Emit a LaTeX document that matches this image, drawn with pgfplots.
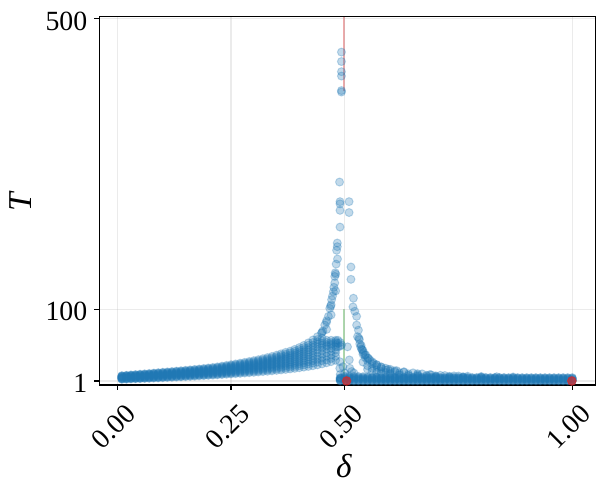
\documentclass[border=0pt]{standalone}
\usepackage{fontspec}
\setmainfont{Liberation Serif}
\usepackage{pgfplots}
\pgfplotsset{compat=1.18}
\usepackage{pgfplotstable}

\definecolor{tabblue}{RGB}{31,119,180}
\definecolor{tabred}{RGB}{214,39,40}
\definecolor{tabgreen}{RGB}{44,160,44}
\definecolor{gridc}{RGB}{176,176,176}

% left branch (delta < 0.5), eleven runs forming the band
\pgfplotstableread{
d c0 c1 c2 c3 c4 c5 c6 c7 c8 c9 c10
0.01 3.3 3.8 4.3 4.8 5.3 5.8 6.3 6.8 7.3 7.8 8.3
0.02 3.5 4.0 4.6 5.1 5.6 6.2 6.7 7.2 7.7 8.3 8.8
0.03 3.8 4.4 4.9 5.5 6.0 6.6 7.1 7.7 8.2 8.8 9.3
0.04 4.0 4.6 5.2 5.7 6.3 6.9 7.5 8.1 8.6 9.2 9.8
0.05 4.2 4.8 5.4 6.0 6.6 7.3 7.9 8.5 9.1 9.7 10.3
0.06 4.5 5.1 5.8 6.4 7.0 7.7 8.3 8.9 9.5 10.2 10.8
0.07 4.7 5.4 6.0 6.7 7.3 8.0 8.7 9.3 10.0 10.6 11.3
0.08 5.0 5.7 6.4 7.1 7.8 8.5 9.1 9.8 10.5 11.2 11.9
0.09 5.2 5.9 6.6 7.4 8.1 8.8 9.5 10.2 11.0 11.7 12.4
0.10 5.5 6.3 7.0 7.8 8.5 9.3 10.0 10.8 11.5 12.3 13.0
0.11 5.8 6.6 7.3 8.1 8.9 9.7 10.4 11.2 12.0 12.7 13.5
0.12 6.1 6.9 7.7 8.5 9.3 10.1 10.8 11.6 12.4 13.2 14.0
0.13 6.4 7.2 8.0 8.9 9.7 10.5 11.3 12.1 13.0 13.8 14.6
0.14 6.7 7.5 8.4 9.2 10.1 10.9 11.7 12.6 13.4 14.3 15.1
0.15 7.0 7.9 8.7 9.6 10.5 11.4 12.2 13.1 14.0 14.8 15.7
0.16 7.3 8.2 9.1 10.0 10.9 11.8 12.7 13.6 14.5 15.4 16.3
0.17 7.6 8.5 9.5 10.4 11.3 12.3 13.2 14.1 15.0 16.0 16.9
0.18 8.0 9.0 9.9 10.9 11.8 12.8 13.7 14.7 15.6 16.6 17.5
0.19 8.3 9.3 10.3 11.3 12.3 13.3 14.2 15.2 16.2 17.2 18.2
0.20 8.7 9.7 10.7 11.8 12.8 13.8 14.8 15.8 16.9 17.9 18.9
0.21 9.0 10.1 11.1 12.2 13.2 14.3 15.4 16.4 17.5 18.5 19.6
0.22 9.4 10.5 11.6 12.7 13.8 14.9 16.0 17.1 18.2 19.3 20.4
0.23 9.8 11.0 12.1 13.3 14.4 15.6 16.8 17.9 19.1 20.2 21.4
0.24 10.3 11.5 12.7 13.9 15.1 16.4 17.6 18.8 20.0 21.2 22.4
0.25 10.7 12.0 13.2 14.5 15.8 17.1 18.3 19.6 20.9 22.1 23.4
0.26 11.1 12.4 13.8 15.1 16.4 17.8 19.1 20.4 21.7 23.1 24.4
0.27 11.5 12.9 14.3 15.7 17.1 18.5 19.9 21.3 22.7 24.1 25.5
0.28 12.0 13.5 14.9 16.4 17.8 19.3 20.8 22.2 23.7 25.1 26.6
0.29 12.4 13.9 15.5 17.0 18.6 20.1 21.6 23.2 24.7 26.3 27.8
0.30 12.9 14.5 16.1 17.7 19.3 21.0 22.6 24.2 25.8 27.4 29.0
0.31 13.4 15.1 16.8 18.5 20.2 21.9 23.5 25.2 26.9 28.6 30.3
0.32 13.9 15.7 17.5 19.2 21.0 22.8 24.6 26.4 28.1 29.9 31.7
0.33 14.4 16.3 18.2 20.0 21.9 23.8 25.7 27.6 29.4 31.3 33.2
0.34 15.0 17.0 19.0 20.9 22.9 24.9 26.9 28.9 30.8 32.8 34.8
0.35 15.6 17.7 19.8 21.9 24.0 26.1 28.1 30.2 32.3 34.4 36.5
0.36 16.2 18.4 20.6 22.9 25.1 27.3 29.5 31.7 34.0 36.2 38.4
0.37 16.9 19.3 21.6 24.0 26.3 28.7 31.0 33.4 35.7 38.0 40.4
0.38 17.6 20.0 22.5 24.9 27.4 29.8 32.2 34.7 37.1 39.6 42.0
0.39 18.4 21.0 23.6 26.2 28.8 31.5 34.1 36.7 39.3 41.9 44.5
0.40 19.2 22.0 24.8 27.5 30.3 33.1 35.9 38.7 41.4 44.2 47.0
0.41 20.1 23.1 26.1 29.1 32.1 35.1 38.0 41.0 44.0 47.0 50.0
0.42 21.0 24.3 27.5 30.8 34.0 37.3 40.5 43.8 47.0 50.3 53.5
0.43 22.0 25.6 29.1 32.7 36.2 39.8 43.3 46.9 50.4 54.0 57.5
0.44 23.2 27.0 31.0 35.0 40.0 44.0 48.0 52.0 55.0 58.0 62.0
0.45 24.5 29.0 33.0 38.0 43.0 47.0 50.0 53.0 56.0 60.0 68.0
0.46 26.0 30.0 35.0 40.0 45.0 49.0 51.0 54.0 57.0 72.0 84.0
0.47 27.6 32.0 37.0 42.0 46.0 50.0 52.0 54.0 57.0 92.0 106.0
0.48 29.5 35.0 40.0 44.0 48.0 51.0 53.0 55.0 57.0 125.0 148.0
}\leftband

% right branch, low band (delta >= 0.49)
\pgfplotstableread{
d b0 b1 b2 b3 b4 b5 b6
0.49 1.0 1.7 2.4 3.2 4.0 4.8 5.6
0.50 1.0 1.8 2.7 3.6 4.6 6.0 7.6
0.51 1.0 1.8 2.7 3.6 4.6 6.0 7.8
0.52 1.0 1.8 2.7 3.6 4.6 6.0 7.6
0.53 1.0 1.8 2.7 3.6 4.5 5.8 7.2
0.54 1.0 1.8 2.7 3.6 4.5 5.7 6.9
0.55 1.0 1.8 2.6 3.5 4.4 5.5 6.6
0.56 1.0 1.8 2.6 3.5 4.4 5.4 6.4
0.57 1.0 1.8 2.6 3.4 4.3 5.3 6.2
0.58 1.0 1.8 2.6 3.4 4.2 5.1 6.0
0.59 1.0 1.8 2.6 3.4 4.2 5.1 6.0
0.60 1.0 1.8 2.6 3.4 4.2 5.1 6.0
0.61 1.0 1.8 2.6 3.4 4.2 5.1 6.0
0.62 1.0 1.8 2.6 3.4 4.2 5.1 6.0
0.63 1.0 1.8 2.6 3.4 4.2 5.1 6.0
0.64 1.0 1.8 2.6 3.4 4.2 5.1 6.0
0.65 1.0 1.8 2.6 3.4 4.2 5.1 6.0
0.66 1.0 1.8 2.6 3.4 4.2 5.1 6.0
0.67 1.0 1.8 2.6 3.4 4.2 5.1 6.0
0.68 1.0 1.8 2.6 3.4 4.2 5.1 6.0
0.69 1.0 1.8 2.6 3.4 4.2 5.1 6.0
0.70 1.0 1.8 2.6 3.4 4.2 5.1 6.0
0.71 1.0 1.8 2.6 3.4 4.2 5.0 5.8
0.72 1.0 1.8 2.6 3.4 4.2 5.0 5.8
0.73 1.0 1.8 2.6 3.4 4.2 5.0 5.8
0.74 1.0 1.8 2.6 3.4 4.2 5.0 5.8
0.75 1.0 1.8 2.6 3.4 4.2 5.0 5.8
0.76 1.0 1.8 2.6 3.4 4.2 5.0 5.8
0.77 1.0 1.8 2.6 3.4 4.2 5.0 5.8
0.78 1.0 1.8 2.6 3.4 4.2 5.0 5.8
0.79 1.0 1.8 2.6 3.4 4.2 5.0 5.8
0.80 1.0 1.8 2.6 3.4 4.2 5.0 5.8
0.81 1.0 1.8 2.6 3.4 4.2 5.0 5.8
0.82 1.0 1.8 2.6 3.4 4.2 5.0 5.8
0.83 1.0 1.8 2.6 3.4 4.2 5.0 5.8
0.84 1.0 1.8 2.6 3.4 4.2 5.0 5.8
0.85 1.0 1.8 2.6 3.4 4.2 5.0 5.8
0.86 1.0 1.8 2.5 3.3 4.1 4.8 5.6
0.87 1.0 1.8 2.5 3.3 4.1 4.8 5.6
0.88 1.0 1.8 2.5 3.3 4.1 4.8 5.6
0.89 1.0 1.8 2.5 3.3 4.1 4.8 5.6
0.90 1.0 1.8 2.5 3.3 4.1 4.8 5.6
0.91 1.0 1.8 2.5 3.3 4.1 4.8 5.6
0.92 1.0 1.8 2.5 3.3 4.1 4.8 5.6
0.93 1.0 1.8 2.5 3.3 4.1 4.8 5.6
0.94 1.0 1.8 2.5 3.3 4.1 4.8 5.6
0.95 1.0 1.8 2.5 3.3 4.1 4.8 5.6
0.96 1.0 1.8 2.5 3.3 4.1 4.8 5.6
0.97 1.0 1.8 2.5 3.3 4.1 4.8 5.6
0.98 1.0 1.8 2.5 3.3 4.1 4.8 5.6
0.99 1.0 1.8 2.5 3.3 4.1 4.8 5.6
1.00 1.0 1.8 2.5 3.3 4.1 4.8 5.6
}\rightband

\pgfplotsset{
  pts/.style={only marks, mark=*, mark size=2.9pt,
    mark options={draw=tabblue, fill=tabblue, opacity=0.28, line width=0.7pt}},
}

\begin{document}
\begin{tikzpicture}
\begin{axis}[
    scale only axis,
    width=357.4pt, height=265.2pt,
    xmin=-0.0396, xmax=1.0514,
    ymin=-4.5, ymax=502.8,
    xtick={0,0.25,0.5,1}, xticklabels={0.00,0.25,0.50,1.00},
    ytick={1,100,500}, yticklabels={1,100,500},
    tick pos=left, tick align=outside, major tick length=3.5pt,
    every tick/.style={black, line width=0.8pt},
    axis line style={line width=0.8pt},
    grid=major, major grid style={gridc, opacity=0.25, line width=0.8pt},
    axis on top,
    tick label style={font=\fontsize{20}{24}\selectfont},
    xticklabel style={anchor=center, yshift=-26.5pt, xshift=-2.6pt, rotate=45},
    yticklabel style={anchor=east, inner sep=0pt, xshift=-5pt, yshift=-1.9pt},
    xlabel={\textit{δ}}, ylabel={\textit{T}},
    label style={font=\fontsize{24}{28}\selectfont},
    xlabel style={at={(axis description cs:0.4934,-0.2194)}, anchor=center},
    ylabel style={at={(axis description cs:-0.1584,0.5)}, anchor=center},
    ]
% left band
\addplot[pts] table[x=d, y=c0] {\leftband};
\addplot[pts] table[x=d, y=c1] {\leftband};
\addplot[pts] table[x=d, y=c2] {\leftband};
\addplot[pts] table[x=d, y=c3] {\leftband};
\addplot[pts] table[x=d, y=c4] {\leftband};
\addplot[pts] table[x=d, y=c5] {\leftband};
\addplot[pts] table[x=d, y=c6] {\leftband};
\addplot[pts] table[x=d, y=c7] {\leftband};
\addplot[pts] table[x=d, y=c8] {\leftband};
\addplot[pts] table[x=d, y=c9] {\leftband};
\addplot[pts] table[x=d, y=c10] {\leftband};
% steep part near delta = 0.5 (left side)
\addplot[pts] coordinates {
    (0.449,67) (0.456,78) (0.464,90) (0.467,101) (0.471,113) (0.475,124)
    (0.478,136) (0.478,145) (0.481,162) (0.484,169) (0.482,181)
    (0.4835,186) (0.4835,191) (0.4895,213) (0.4895,236) (0.4895,245)
    (0.4895,248) (0.4885,275)
    (0.4927,399) (0.4927,401) (0.4927,421) (0.4927,427) (0.4927,441) (0.4927,454)
    (0.452,70) (0.460,82) (0.469,104) (0.473,118) (0.476,130) (0.479,150)
    (0.485,48) (0.485,53) (0.485,57) (0.490,49) (0.490,54)
};
% scattered points around delta = 0.5
\addplot[pts] coordinates {
    (0.489,27.6) (0.489,18.5) (0.493,50.6) (0.496,20.7) (0.506,48)
    (0.510,30) (0.511,18.5) (0.4915,4.7) (0.490,10) (0.500,12)
    (0.515,14) (0.520,12)
};
% right branch, decaying runs
\addplot[pts] coordinates {
    (0.5094,248) (0.5094,233) (0.5136,158) (0.5136,141) (0.519,115) (0.518,103)
    (0.522,97) (0.526,90) (0.526,78) (0.530,71) (0.531,60) (0.535,48)
    (0.538,44) (0.541,40) (0.544,37) (0.550,33) (0.555,30) (0.563,25.5)
    (0.570,23) (0.580,20.5) (0.590,18.5) (0.600,17) (0.614,15.2) (0.630,13.7)
    (0.650,12.2) (0.670,10.8) (0.687,9.8) (0.710,8.8) (0.740,8.0) (0.770,7.5)
    (0.800,7.1) (0.834,6.8) (0.870,6.5)
};
\addplot[pts] coordinates {
    (0.532,58) (0.536,50) (0.540,43) (0.546,37) (0.552,32) (0.560,27.5)
    (0.570,23.5) (0.580,20) (0.595,17) (0.610,15) (0.630,13) (0.660,11)
    (0.690,9.5) (0.720,8.5) (0.750,7.8)
};
\addplot[pts] coordinates {
    (0.528,62) (0.533,52) (0.537,45) (0.540,38) (0.545,33) (0.550,29)
    (0.560,24.5) (0.570,21) (0.580,18) (0.590,16) (0.600,14.5) (0.610,13.3)
    (0.620,12.3) (0.640,10.8) (0.660,9.6) (0.680,8.8) (0.700,8.1) (0.730,7.4)
    (0.760,6.8) (0.800,6.3)
};
\addplot[pts] coordinates {
    (0.540,27) (0.550,22) (0.560,18.5) (0.570,16) (0.580,14) (0.590,12.6)
    (0.600,11.5) (0.620,10) (0.640,9) (0.660,8.2) (0.680,7.6) (0.700,7.1)
    (0.730,6.6) (0.760,6.2)
};
\addplot[pts] coordinates {
    (0.550,17) (0.560,14.5) (0.570,12.8) (0.580,11.5) (0.600,10) (0.620,9)
    (0.640,8.2) (0.660,7.6) (0.700,6.8)
};
% right low band
\addplot[pts] table[x=d, y=b0] {\rightband};
\addplot[pts] table[x=d, y=b1] {\rightband};
\addplot[pts] table[x=d, y=b2] {\rightband};
\addplot[pts] table[x=d, y=b3] {\rightband};
\addplot[pts] table[x=d, y=b4] {\rightband};
\addplot[pts] table[x=d, y=b5] {\rightband};
\addplot[pts] table[x=d, y=b6] {\rightband};
% marker lines
\addplot[tabred, opacity=0.4, line width=1.5pt] coordinates {(0.4985,400) (0.4985,502.8)};
\addplot[tabgreen, opacity=0.4, line width=1.5pt] coordinates {(0.4975,-4.5) (0.4975,100)};
% end points
\addplot[only marks, mark=*, mark size=3.1pt,
    mark options={draw=tabred, fill=tabred, opacity=0.7, line width=0.7pt}]
    coordinates {(0.504,1) (0.999,1)};
\end{axis}
\pgfresetboundingbox
\path ([shift={(-71.5pt,-78.5pt)}]current axis.south west)
    rectangle ([shift={(8.9pt,12pt)}]current axis.north east);
\end{tikzpicture}
\end{document}
